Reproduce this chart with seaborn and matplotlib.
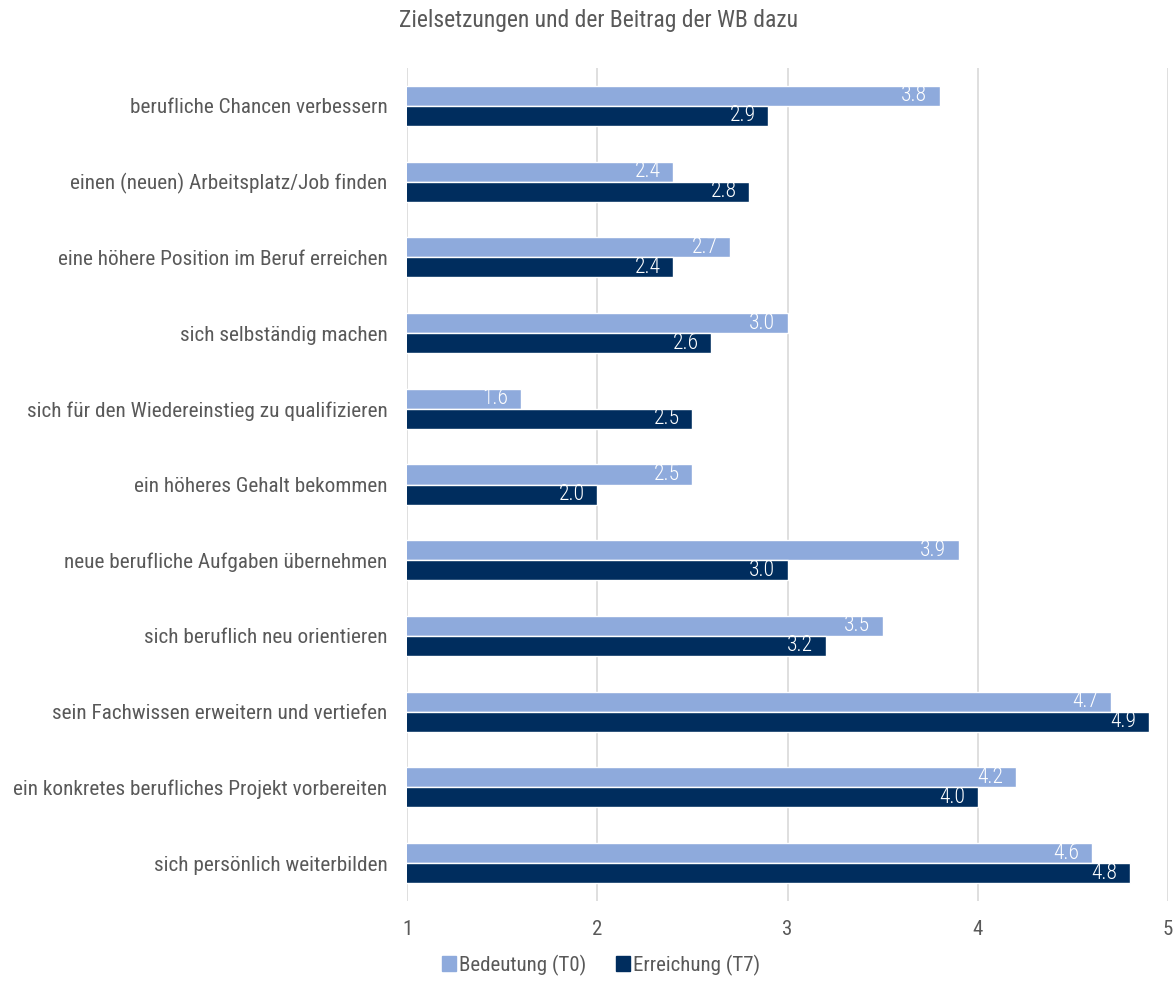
import matplotlib
matplotlib.use("Agg")
import matplotlib.pyplot as plt
from matplotlib import font_manager
import seaborn as sns
import pandas as pd

categories = [
    "berufliche Chancen verbessern",
    "einen (neuen) Arbeitsplatz/Job finden",
    "eine höhere Position im Beruf erreichen",
    "sich selbständig machen",
    "sich für den Wiedereinstieg zu qualifizieren",
    "ein höheres Gehalt bekommen",
    "neue berufliche Aufgaben übernehmen",
    "sich beruflich neu orientieren",
    "sein Fachwissen erweitern und vertiefen",
    "ein konkretes berufliches Projekt vorbereiten",
    "sich persönlich weiterbilden",
]
bedeutung = [3.8, 2.4, 2.7, 3.0, 1.6, 2.5, 3.9, 3.5, 4.7, 4.2, 4.6]
erreichung = [2.9, 2.8, 2.4, 2.6, 2.5, 2.0, 3.0, 3.2, 4.9, 4.0, 4.8]
series = ["Bedeutung (T0)", "Erreichung (T7)"]
colors = ["#8EAADC", "#002D5E"]
xticks = [1, 2, 3, 4, 5]

sns.set_theme(style="white")
names = {f.name for f in font_manager.fontManager.ttflist}
fam = "Roboto Condensed" if "Roboto Condensed" in names else "Roboto"
plt.rcParams["font.family"] = [fam, "DejaVu Sans"]

df = pd.DataFrame({
    "cat": categories * 2,
    "val": bedeutung + erreichung,
    "series": [series[0]] * len(categories) + [series[1]] * len(categories),
})

fig = plt.figure(figsize=(11.75, 9.91), dpi=100)
ax = fig.add_axes([407 / 1175, 1 - 901 / 991, (1168 - 407) / 1175, (901 - 68) / 991])
sns.barplot(data=df, y="cat", x="val", hue="series", palette=colors, ax=ax,
            width=0.53, orient="h", saturation=1, legend=True)

ax.set_xlim(1, 5)
ax.set_ylim(len(categories) - 0.5, -0.5)
ax.set_xticks(xticks)
ax.set_xticklabels([str(t) for t in xticks])
ax.xaxis.grid(True, color="#D9D9D9", linewidth=1.2)
ax.set_axisbelow(True)
for s in ax.spines.values():
    s.set_visible(False)
ax.set_xlabel("")
ax.set_ylabel("")
ax.tick_params(axis="x", colors="#595959", labelsize=15, length=0, pad=14)
ax.tick_params(axis="y", colors="#595959", labelsize=15.3, length=0, pad=14)

for cont in ax.containers:
    anns = ax.bar_label(cont, fmt="%.1f", padding=-9, color="white", fontsize=15.5,
                        fontweight="light", label_type="edge")
    for a in anns:
        a.set_ha("right")
        a.set_va("center")

fig.text(599 / 1175, 1 - 21 / 991, "Zielsetzungen und der Beitrag der WB dazu",
         ha="center", va="center", color="#595959", fontsize=17)

ax.legend_.remove()
handles = [plt.Rectangle((0, 0), 1, 1, color=c) for c in colors]
fig.legend(handles, series, loc="center", bbox_to_anchor=(601 / 1175, 1 - 965 / 991),
           ncol=2, frameon=False, fontsize=15, handlelength=0.7, handleheight=0.7,
           handletextpad=0.15, columnspacing=1.4, labelcolor="#595959")

fig.savefig("out.png", dpi=100)
